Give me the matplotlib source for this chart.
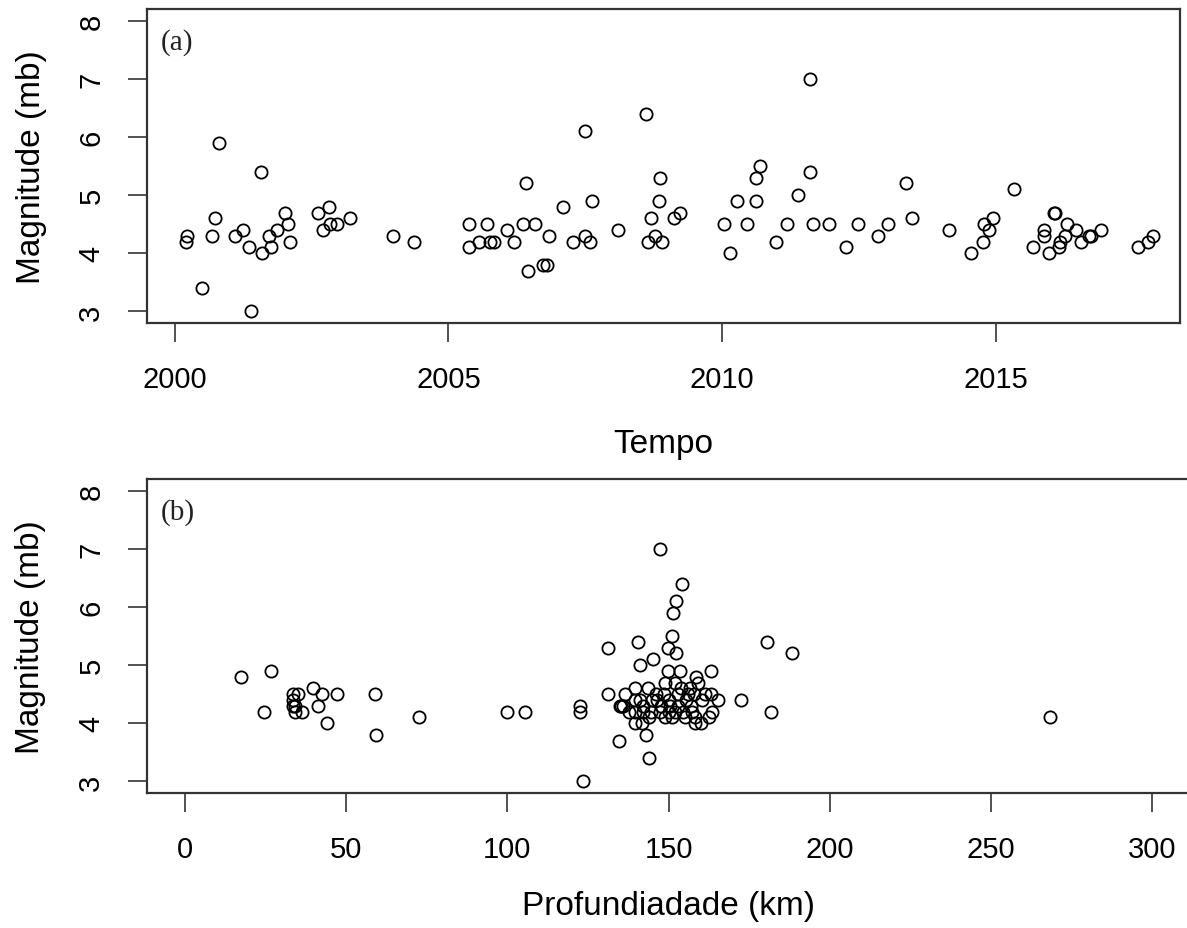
import numpy as np
import matplotlib
matplotlib.use('Agg')
import matplotlib.pyplot as plt

plt.rcParams['font.family'] = ['Liberation Sans', 'DejaVu Sans']

# (a) tempo x magnitude
tempo = [2000.20, 2000.23, 2000.49, 2000.81, 2000.73, 2000.68, 2001.10, 2001.24, 2001.40, 2001.36,
         2001.57, 2001.60, 2001.75, 2001.72, 2001.86, 2002.02, 2002.07, 2002.10, 2002.61, 2002.81,
         2002.70, 2002.84, 2002.97, 2003.20, 2003.99, 2004.37,
         2005.38, 2005.38, 2005.55, 2005.71, 2005.76, 2005.84, 2006.07, 2006.20, 2006.36, 2006.42,
         2006.59, 2006.45, 2006.73, 2006.80, 2006.84, 2007.10, 2007.27, 2007.50, 2007.50, 2007.58,
         2007.63, 2008.09, 2008.61, 2008.64, 2008.78, 2008.91, 2008.70, 2008.84, 2008.87, 2009.13,
         2009.23,
         2010.04, 2010.15, 2010.28, 2010.46, 2010.63, 2010.63, 2010.70, 2010.99, 2011.18,
         2011.38, 2011.61, 2011.61, 2011.67, 2011.96, 2012.27, 2012.49, 2012.85, 2013.04, 2013.37,
         2013.47, 2014.15, 2014.55, 2014.77, 2014.79, 2014.88, 2014.95, 2015.33, 2015.68, 2015.88,
         2015.88, 2015.98, 2016.07, 2016.09, 2016.16, 2016.17, 2016.27, 2016.30, 2016.47, 2016.56,
         2016.70, 2016.75, 2016.92, 2017.60, 2017.79, 2017.87]
mag_a = [4.2, 4.3, 3.4, 5.9, 4.6, 4.3, 4.3, 4.4, 3.0, 4.1,
         5.4, 4.0, 4.1, 4.3, 4.4, 4.7, 4.5, 4.2, 4.7, 4.8,
         4.4, 4.5, 4.5, 4.6, 4.3, 4.2,
         4.5, 4.1, 4.2, 4.5, 4.2, 4.2, 4.4, 4.2, 4.5, 5.2,
         4.5, 3.7, 3.8, 3.8, 4.3, 4.8, 4.2, 6.1, 4.3, 4.2,
         4.9, 4.4, 6.4, 4.2, 4.3, 4.2, 4.6, 4.9, 5.3, 4.6,
         4.7,
         4.5, 4.0, 4.9, 4.5, 4.9, 5.3, 5.5, 4.2, 4.5,
         5.0, 7.0, 5.4, 4.5, 4.5, 4.1, 4.5, 4.3, 4.5, 5.2,
         4.6, 4.4, 4.0, 4.2, 4.5, 4.4, 4.6, 5.1, 4.1, 4.4,
         4.3, 4.0, 4.7, 4.7, 4.1, 4.2, 4.3, 4.5, 4.4, 4.2,
         4.3, 4.3, 4.4, 4.1, 4.2, 4.3]

# (b) profundidade x magnitude
prof = [17.4, 26.8, 24.5, 33.5, 33.5, 33.5, 34.0, 34.0, 35.1, 36.4,
        39.8, 42.4, 41.3, 44.0, 47.3, 58.9, 59.3, 72.6, 100.0, 105.6,
        122.6, 122.6, 123.4,
        131.3, 131.3, 134.5, 140.6, 147.3, 154.0, 152.4, 151.3, 150.9, 149.8,
        152.4, 141.1, 145.1, 180.4, 188.2, 172.4, 181.9, 143.8, 142.9, 139.5,
        141.8, 158.3, 162.4, 158.3, 163.3, 158.4, 153.4, 149.8, 268.2,
        136.4, 139.5, 143.7, 148.8, 151.9, 156.6, 159.0, 161.2, 163.3, 165.3,
        134.9, 135.3, 135.9, 139.5, 142.0, 145.0, 147.5, 150.2, 152.8, 155.3,
        157.0, 160.4, 139.5, 142.2, 144.6, 147.3, 150.0, 152.1, 154.6, 157.2,
        146.0, 148.5, 153.0, 156.0, 144.0, 149.0, 151.0, 155.0, 160.0, 163.5,
        137.8, 141.0, 146.5, 150.5, 153.8, 158.0]
mag_b = [4.8, 4.9, 4.2, 4.5, 4.4, 4.3, 4.2, 4.3, 4.5, 4.2,
         4.6, 4.5, 4.3, 4.0, 4.5, 4.5, 3.8, 4.1, 4.2, 4.2,
         4.3, 4.2, 3.0,
         5.3, 4.5, 3.7, 5.4, 7.0, 6.4, 6.1, 5.9, 5.5, 5.3,
         5.2, 5.0, 5.1, 5.4, 5.2, 4.4, 4.2, 3.4, 3.8, 4.0,
         4.0, 4.0, 4.1, 4.1, 4.9, 4.8, 4.9, 4.9, 4.1,
         4.5, 4.6, 4.6, 4.7, 4.7, 4.6, 4.7, 4.5, 4.5, 4.4,
         4.3, 4.3, 4.3, 4.4, 4.3, 4.4, 4.3, 4.4, 4.3, 4.4,
         4.3, 4.4, 4.2, 4.2, 4.2, 4.2, 4.2, 4.2, 4.2, 4.2,
         4.5, 4.5, 4.5, 4.5, 4.1, 4.1, 4.1, 4.1, 4.0, 4.2,
         4.2, 4.4, 4.4, 4.3, 4.6, 4.5]

fig = plt.figure(figsize=(11.87, 9.29), dpi=100)
ax1 = fig.add_axes([0.1238, 0.6512, 0.8703, 0.3380])
ax2 = fig.add_axes([0.1238, 0.1453, 0.8795, 0.3380])


def style(ax, xlab, tag):
    ax.set_ylim(2.8, 8.2)
    ax.set_yticks([3, 4, 5, 6, 7, 8])
    ax.tick_params(axis='both', direction='out', length=14, width=1.1,
                   labelsize=21, pad=16, color='#222222')
    ax.tick_params(axis='y', labelrotation=90)
    for lab in ax.get_yticklabels():
        lab.set_va('center')
    for s in ax.spines.values():
        s.set_linewidth(1.6)
        s.set_color('#333333')
    ax.set_ylabel('Magnitude (mb)', fontsize=24)
    ax.yaxis.set_label_coords(-0.097, 0.5)
    ax.set_xlabel(xlab, fontsize=24)
    ax.text(0.013, 0.94, tag, transform=ax.transAxes, fontsize=21,
            family=['Liberation Serif', 'DejaVu Serif'], va='top', ha='left',
            color='#222222')


ax1.plot(tempo, mag_a, 'o', mfc='none', mec='black', ms=8.8, mew=1.3)
ax1.set_xlim(1999.49, 2018.37)
ax1.set_xticks([2000, 2005, 2010, 2015])
style(ax1, 'Tempo', '(a)')
ax1.xaxis.set_label_coords(0.5, -0.335)

ax2.plot(prof, mag_b, 'o', mfc='none', mec='black', ms=8.8, mew=1.3)
ax2.set_xlim(-11.8, 312)
ax2.set_xticks([0, 50, 100, 150, 200, 250, 300])
style(ax2, 'Profundiadade (km)', '(b)')
ax2.xaxis.set_label_coords(0.5, -0.31)

plt.savefig('out.png', dpi=100)
